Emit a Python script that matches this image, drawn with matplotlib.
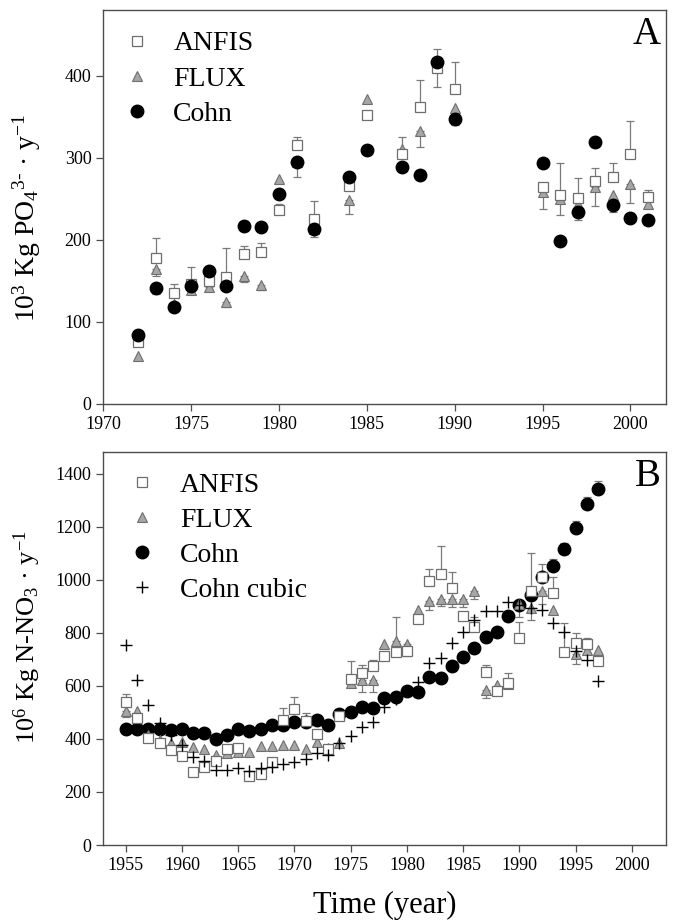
import numpy as np
import matplotlib
matplotlib.use("Agg")
import matplotlib.pyplot as plt

plt.rcParams['font.family'] = ['Liberation Serif', 'DejaVu Serif']
plt.rcParams['mathtext.fontset'] = 'custom'
plt.rcParams['mathtext.rm'] = 'Liberation Serif'
plt.rcParams['mathtext.it'] = 'Liberation Serif:italic'

nan = np.nan

# Panel A: phosphate loads (10^3 kg PO4 / y)
years_a = [1972, 1973, 1974, 1975, 1976, 1977, 1978, 1979, 1980, 1981, 1982, 1984,
           1985, 1987, 1988, 1989, 1990, 1995, 1996, 1997, 1998, 1999, 2000, 2001]
anfis_a = [76, 178, 135, 146, 150, 155, 183, 185, 236, 315, 225, 265,
           352, 304, 362, 409, 384, 264, 255, 251, 272, 277, 304, 252]
anfis_a_up = [0, 24, 11, 21, 0, 35, 9, 11, 8, 10, 22, 0,
              0, 0, 33, 24, 33, 0, 39, 24, 16, 17, 41, 9]
anfis_a_dn = [0, 0, 0, 0, 0, 0, 0, 0, 0, 0, 0, 0,
              0, 0, 0, 23, 0, 27, 0, 0, 0, 0, 0, 0]
flux_a = [59, 164, 122, 139, 143, 124, 156, 145, 274, 295, 213, 248,
          372, 311, 333, 410, 361, 258, 250, 244, 264, 254, 268, 244]
flux_a_up = [0, 0, 0, 0, 0, 0, 0, 0, 0, 0, 0, 0,
             0, 14, 0, 0, 0, 0, 0, 0, 0, 0, 0, 0]
flux_a_dn = [0, 8, 0, 0, 6, 6, 8, 6, 0, 0, 0, 17,
             0, 0, 20, 0, 0, 0, 20, 0, 23, 0, 23, 0]
cohn_a = [84.5, 141.5, 118, 144, 162, 143.5, 217, 215, 256, 295, 213, 276,
          309, 289, 279, 417, 347.5, 294, 199, 234, 319.5, 242, 227, 223.6]
cohn_a_dn = [0, 7, 0, 4, 0, 0, 0, 0, 0, 19, 10, 0,
             0, 0, 0, 0, 8, 0, 0, 10, 0, 8, 0, 5]

# Panel B: nitrate loads (10^6 kg N-NO3 / y)
years_b = list(range(1955, 1998))
cohn_b = [439, 436, 436, 436, 433, 439, 424, 424, 398, 416, 436, 431, 439, 452, 452,
          462, 464, 473, 454, 492, 501, 521, 516, 553, 556, 580, 575, 634, 630, 674,
          707, 743, 783, 803, 862, 906, 942, 1011, 1052, 1117, 1195, 1287, 1340]
cohn_b_up = [0] * 36 + [8, 15, 25, 21, 25, 24, 32]
anfis_b = [540, 480, 402, 385, 358, 336, 276, 293, 318, 360, 364, 260, 267, 314, 471,
           513, 467, 418, 360, 486, 626, 650, 674, 713, 728, 731, 851, 995, 1023, 969,
           863, 820, 653, 581, 610, 782, 957, 1010, 948, 728, 760, 756, 694]
anfis_b_up = [31, 0, 0, 0, 0, 0, 0, 0, 0, 0, 0, 0, 0, 0, 44,
              43, 29, 0, 0, 0, 68, 30, 23, 0, 0, 0, 0, 45, 104, 60,
              0, 40, 24, 0, 38, 60, 143, 48, 62, 108, 40, 26, 0]
flux_b = [505, 505, 415, 395, 385, 389, 368, 360, 339, 345, 350, 351, 373, 373, 377,
          377, 362, 387, 364, 383, 610, 621, 621, 757, 768, 757, 885, 919, 929, 929,
          929, 958, 584, 604, 605, 908, 895, 958, 885, nan, 719, 734, 734]
flux_b_up = [0] * 24 + [92] + [0] * 18
flux_b_dn = [22, 0, 0, 0, 0, 0, 0, 0, 0, 0, 0, 0, 0, 0, 0,
             0, 0, 0, 0, 0, 0, 44, 44, 0, 0, 44, 0, 34, 29, 31,
             33, 30, 29, 0, 0, 50, 48, 48, 0, 0, 35, 0, 0]
cubic_b = [753, 621, 527, 461, 414, 377, 333, 318, 282, 282, 289, 280, 289, 295, 304,
           314, 326, 345, 339, 383, 411, 446, 465, 521, 550, 580, 613, 687, 703, 760,
           801, 847, 882, 882, 917, 905, 895, 884, 837, 803, 730, 697, 619]

ERR_C = '#7a7a7a'
SQ_EDGE = '#6e6e6e'
TRI_FACE = '#a6a6a6'
TRI_EDGE = '#6e6e6e'


def bars(ax, x, y, dn, up):
    y = np.array(y, float)
    dn = np.array(dn, float)
    up = np.array(up, float)
    m = (dn > 0) | (up > 0)
    ax.errorbar(np.array(x)[m], y[m], yerr=[dn[m], up[m]], fmt='none',
                ecolor=ERR_C, elinewidth=0.9, capsize=2.8, capthick=0.9, zorder=2)


def style_axes(ax):
    for s in ax.spines.values():
        s.set_color('#4d4d4d')
        s.set_linewidth(1.0)
    ax.tick_params(direction='out', length=5, width=0.9, color='#4d4d4d',
                   labelsize=13, top=False, right=False)


fig = plt.figure(figsize=(6.75, 9.21), dpi=100)

# ---- Panel A
ax1 = fig.add_axes([0.153, 0.5614, 0.833, 0.4278])
bars(ax1, years_a, anfis_a, anfis_a_dn, anfis_a_up)
bars(ax1, years_a, flux_a, flux_a_dn, flux_a_up)
bars(ax1, years_a, cohn_a, cohn_a_dn, [0] * len(cohn_a))
ax1.plot(years_a, flux_a, ls='none', marker='^', ms=7, mfc=TRI_FACE, mec=TRI_EDGE,
         mew=0.8, zorder=3, label='FLUX')
ax1.plot(years_a, anfis_a, ls='none', marker='s', ms=6.5, mfc='white', mec=SQ_EDGE,
         mew=0.9, zorder=4, label='ANFIS')
ax1.plot(years_a, cohn_a, ls='none', marker='o', ms=9, mfc='black', mec='black',
         zorder=5, label='Cohn')
ax1.set_xlim(1970, 2002)
ax1.set_ylim(0, 480)
ax1.set_xticks(range(1970, 2001, 5))
ax1.set_yticks(range(0, 401, 100))
style_axes(ax1)
ax1.set_ylabel('10$^{3}$ Kg PO$_{4}$$^{3\u2010}$ \u00b7 y$^{-1}$', fontsize=20)
ax1.yaxis.set_label_coords(-0.108, 0.472)
ax1.text(0.992, 0.985, 'A', transform=ax1.transAxes, ha='right', va='top', fontsize=28)
h, l = ax1.get_legend_handles_labels()
order = [1, 0, 2]
ax1.legend([h[i] for i in order], [l[i] for i in order], loc='upper left',
           bbox_to_anchor=(0.0, 0.982), frameon=False, fontsize=20,
           borderaxespad=0.2, borderpad=0.3, handlelength=1.45,
           handletextpad=0.57, labelspacing=0.35)

# ---- Panel B
ax2 = fig.add_axes([0.153, 0.0825, 0.833, 0.4264])
bars(ax2, years_b, anfis_b, [0] * len(anfis_b), anfis_b_up)
bars(ax2, years_b, flux_b, flux_b_dn, flux_b_up)
bars(ax2, years_b, cohn_b, [0] * len(cohn_b), cohn_b_up)
ax2.plot(years_b, cohn_b, ls='none', marker='o', ms=9, mfc='black', mec='black',
         zorder=3, label='Cohn')
ax2.plot(years_b, flux_b, ls='none', marker='^', ms=7, mfc=TRI_FACE, mec=TRI_EDGE,
         mew=0.8, zorder=4, label='FLUX')
ax2.plot(years_b, anfis_b, ls='none', marker='s', ms=6.5, mfc='white', mec=SQ_EDGE,
         mew=0.9, zorder=5, label='ANFIS')
ax2.plot(years_b, cubic_b, ls='none', marker='+', ms=8, mec='black', mew=1.0,
         zorder=6, label='Cohn cubic')
ax2.set_xlim(1953, 2003)
ax2.set_ylim(0, 1480)
ax2.set_xticks(range(1955, 2001, 5))
ax2.set_yticks(range(0, 1401, 200))
style_axes(ax2)
ax2.set_ylabel('10$^{6}$ Kg N-NO$_{3}$ \u00b7 y$^{-1}$', fontsize=19)
ax2.yaxis.set_label_coords(-0.108, 0.529)
ax2.set_xlabel('Time (year)', fontsize=22, labelpad=12)
ax2.text(0.992, 0.985, 'B', transform=ax2.transAxes, ha='right', va='top', fontsize=28)
h, l = ax2.get_legend_handles_labels()
order = [2, 1, 0, 3]
ax2.legend([h[i] for i in order], [l[i] for i in order], loc='upper left',
           bbox_to_anchor=(0.0, 0.985), frameon=False, fontsize=20,
           borderaxespad=0.2, borderpad=0.3, handlelength=1.8,
           handletextpad=0.47, labelspacing=0.35)

fig.savefig('out.png', dpi=100)
